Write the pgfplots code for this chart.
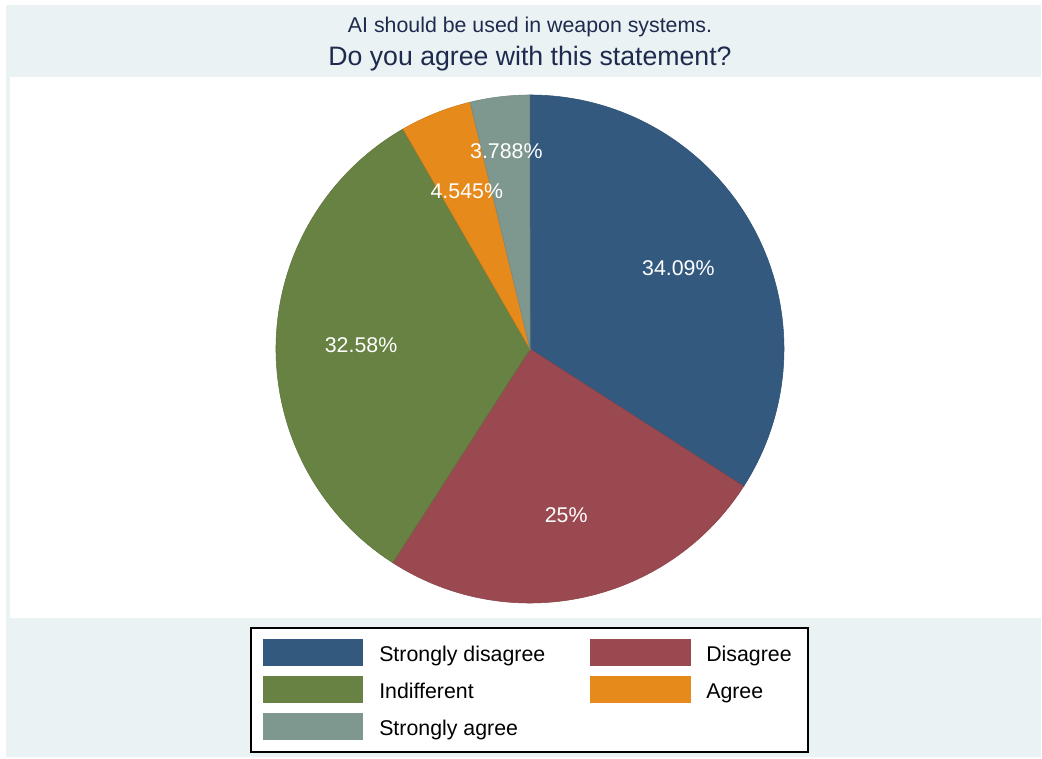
\documentclass[border=0pt]{standalone}
\usepackage{fontspec}
\setmainfont{Liberation Sans}
\usepackage{pgfplots}
\usepackage{pgfplotstable}
\pgfplotsset{compat=1.18}
\definecolor{bg}{RGB}{234,242,243}
\definecolor{ttl}{RGB}{30,42,78}
\definecolor{pie0}{RGB}{51,89,126}
\definecolor{pie1}{RGB}{155,73,80}
\definecolor{pie2}{RGB}{103,130,66}
\definecolor{pie3}{RGB}{230,138,28}
\definecolor{pie4}{RGB}{127,152,143}

% slice shares (percent) and label radius (px)
\pgfplotstableread{
value r
34.09 169
25    170
32.58 169
4.545 170
3.788 199
}\piedata

\begin{document}
\begin{tikzpicture}
\pgfplotstablegetrowsof{\piedata}
\pgfmathtruncatemacro\nrows{\pgfplotsretval-1}
\gdef\pietotal{0}
\foreach \i in {0,...,\nrows}{%
  \pgfplotstablegetelem{\i}{value}\of\piedata
  \pgfmathsetmacro\tmp{\pietotal+\pgfplotsretval}%
  \global\let\pietotal\tmp
}
\gdef\piecur{90}
\foreach \i in {0,...,\nrows}{%
  \pgfplotstablegetelem{\i}{value}\of\piedata
  \expandafter\xdef\csname pieL\i\endcsname{\pgfplotsretval}%
  \pgfmathsetmacro\tmpE{\piecur-\pgfplotsretval/\pietotal*360}%
  \expandafter\xdef\csname pieS\i\endcsname{\piecur}%
  \expandafter\xdef\csname pieE\i\endcsname{\tmpE}%
  \pgfmathsetmacro\tmpM{(\piecur+\tmpE)/2}%
  \expandafter\xdef\csname pieM\i\endcsname{\tmpM}%
  \pgfplotstablegetelem{\i}{r}\of\piedata
  \expandafter\xdef\csname pieR\i\endcsname{\pgfplotsretval}%
  \global\let\piecur\tmpE
}
\begin{axis}[width=781.5pt,height=569.25pt,scale only axis,
  xmin=0,xmax=1042,ymin=0,ymax=759,hide axis,clip=false]
\fill[white] (axis cs:0,0) rectangle (axis cs:1042,759);
\fill[bg] (axis cs:6,2) rectangle (axis cs:1041,754);
\fill[white] (axis cs:10,141) rectangle (axis cs:1041,682);
\node[anchor=base,text=ttl,font=\fontsize{16}{19}\selectfont] at (axis cs:530,726) {AI should be used in weapon systems.};
\node[anchor=base,text=ttl,font=\fontsize{20}{24}\selectfont] at (axis cs:530,693) {Do you agree with this statement?};
\pgfplotsinvokeforeach{0,...,4}{%
  \filldraw[fill=pie#1,draw=pie#1!90!black,line width=0.4pt]
    (axis cs:530,410) --
    (axis cs:{530+254*cos(\csname pieS#1\endcsname)},{410+254*sin(\csname pieS#1\endcsname)})
    arc[start angle=\csname pieS#1\endcsname, end angle=\csname pieE#1\endcsname, radius=190.5pt] -- cycle;
}
\pgfplotsinvokeforeach{0,...,4}{%
  \node[text=white,font=\fontsize{16}{19}\selectfont] at
    (axis cs:{530+\csname pieR#1\endcsname*cos(\csname pieM#1\endcsname)},{410+\csname pieR#1\endcsname*sin(\csname pieM#1\endcsname)})
    {\csname pieL#1\endcsname\%};
}
% legend
\draw[black,line width=1pt,fill=white] (axis cs:251,7) rectangle (axis cs:808,131);
\fill[pie0] (axis cs:263,92.5) rectangle (axis cs:363,119.5);
\fill[pie1] (axis cs:590,92.5) rectangle (axis cs:691,119.5);
\fill[pie2] (axis cs:263,55.5) rectangle (axis cs:363,82.5);
\fill[pie3] (axis cs:590,55.5) rectangle (axis cs:691,82.5);
\fill[pie4] (axis cs:263,18.5) rectangle (axis cs:363,45.5);
\node[anchor=base west,inner sep=0pt,font=\fontsize{16}{19}\selectfont] at (axis cs:379,97) {Strongly disagree};
\node[anchor=base west,inner sep=0pt,font=\fontsize{16}{19}\selectfont] at (axis cs:706,97) {Disagree};
\node[anchor=base west,inner sep=0pt,font=\fontsize{16}{19}\selectfont] at (axis cs:379,60) {Indifferent};
\node[anchor=base west,inner sep=0pt,font=\fontsize{16}{19}\selectfont] at (axis cs:706,60) {Agree};
\node[anchor=base west,inner sep=0pt,font=\fontsize{16}{19}\selectfont] at (axis cs:379,23) {Strongly agree};
\end{axis}
\end{tikzpicture}
\end{document}
